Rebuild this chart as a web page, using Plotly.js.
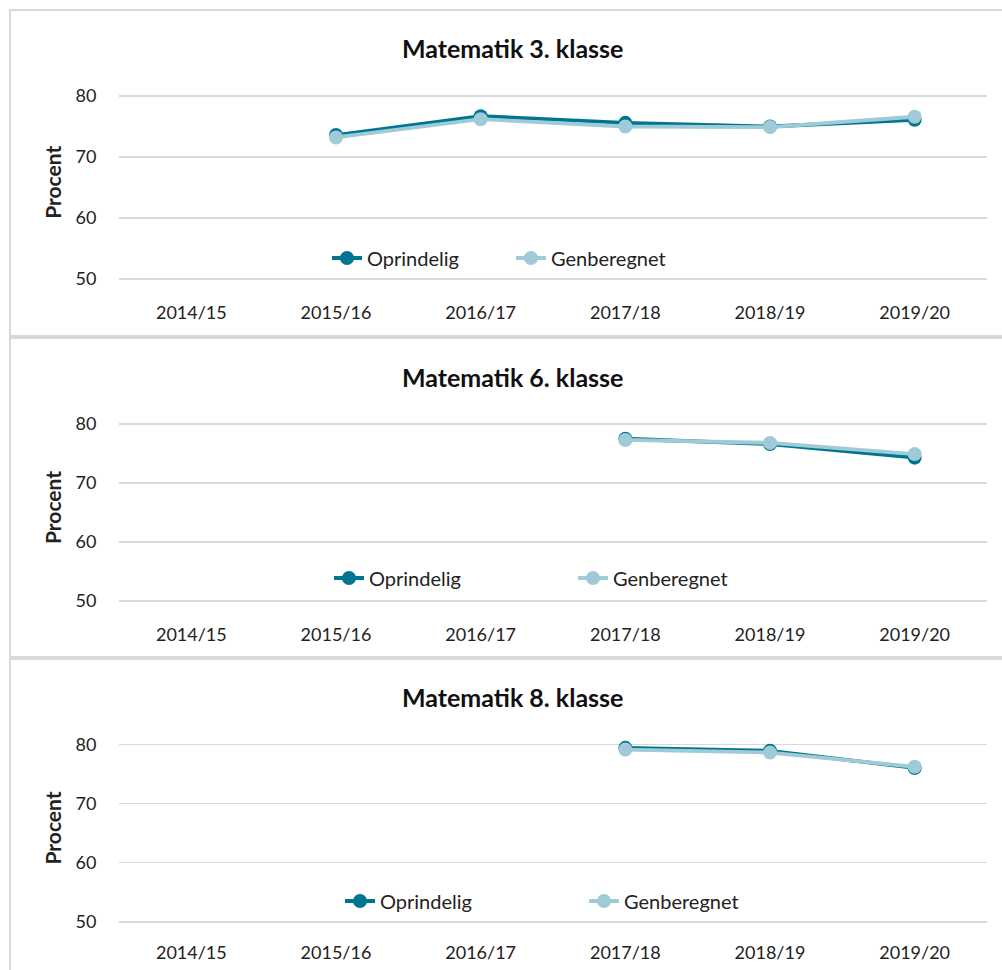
<!DOCTYPE html>
<html>
<head>
<meta charset="utf-8">
<script src="https://cdn.plot.ly/plotly-3.0.1.min.js"></script>
<style>html,body{margin:0;padding:0;background:#fff;}#chart{width:1002px;height:970px;}</style>
</head>
<body>
<div id="chart"></div>
<script>
// ---- data ----
const years = ["2014/15", "2015/16", "2016/17", "2017/18", "2018/19", "2019/20"];
const titles = ["Matematik 3. klasse", "Matematik 6. klasse", "Matematik 8. klasse"];
const seriesNames = ["Oprindelig", "Genberegnet"];
const yTicks = [50, 60, 70, 80];
const yTitle = "Procent";

const m3Oprindelig  = [null, 73.6, 76.7, 75.6, 75.0, 76.1];
const m3Genberegnet = [null, 73.2, 76.2, 75.0, 74.9, 76.6];
const m6Oprindelig  = [null, null, null, 77.5, 76.6, 74.3];
const m6Genberegnet = [null, null, null, 77.3, 76.8, 74.9];
const m8Oprindelig  = [null, null, null, 79.4, 78.9, 76.0];
const m8Genberegnet = [null, null, null, 79.1, 78.6, 76.2];

// ---- styling / layout ----
const W = 1002, H = 970;
const L = 119, R = 987;
const px = x => (x - L) / (R - L);
const py = y => 1 - y / H;

const darkC = "#00758f";
const lightC = "#9ecbd7";
const gridC = "#d9d9d9";
const FONT = "Lato, 'Open Sans', sans-serif";
const txtC = "#222222";

const panels = [
  {op: m3Oprindelig, gb: m3Genberegnet, y50: 279, y80: 96,  title: 48,  leg: 258, legX: 327, entry: 139, xtl: 16},
  {op: m6Oprindelig, gb: m6Genberegnet, y50: 601, y80: 424, title: 377, leg: 578, legX: 329, entry: 199, xtl: 16},
  {op: m8Oprindelig, gb: m8Genberegnet, y50: 921.7, y80: 744.3, title: 697, leg: 901, legX: 340, entry: 199, xtl: 13}
];
const yMin = 49.7, yMax = 82;

const data = [];
const layout = {
  width: W, height: H,
  margin: {l: L, r: W - R, t: 0, b: 0, pad: 0},
  paper_bgcolor: "#fff", plot_bgcolor: "rgba(0,0,0,0)",
  font: {family: FONT, color: txtC, size: 18},
  showlegend: true,
  annotations: [], shapes: []
};

const borders = [[10, 336], [338, 657], [659, 990]];

panels.forEach((p, i) => {
  const n = i === 0 ? "" : String(i + 1);
  const xa = "x" + n, ya = "y" + n;
  const legName = i === 0 ? "legend" : "legend" + (i + 1);
  const unit = (p.y50 - p.y80) / 30;
  const topPx = p.y50 - (yMax - 50) * unit;
  const botPx = p.y50 + (50 - yMin) * unit;

  data.push({
    type: "scatter", mode: "lines+markers", name: seriesNames[0],
    x: years, y: p.op, xaxis: xa, yaxis: ya, legend: legName,
    line: {color: darkC, width: 3.8}, marker: {color: darkC, size: 14},
    cliponaxis: false, hoverinfo: "x+y+name"
  });
  data.push({
    type: "scatter", mode: "lines+markers", name: seriesNames[1],
    x: years, y: p.gb, xaxis: xa, yaxis: ya, legend: legName,
    line: {color: lightC, width: 3.8}, marker: {color: lightC, size: 14},
    cliponaxis: false, hoverinfo: "x+y+name"
  });

  layout["xaxis" + n] = {
    domain: [0, 1], anchor: ya, type: "category",
    categoryorder: "array", categoryarray: years,
    range: [-0.5, years.length - 0.5],
    showgrid: false, zeroline: false, showline: false,
    ticks: "outside", ticklen: p.xtl, tickcolor: "rgba(0,0,0,0)",
    tickfont: {family: FONT, size: 18, color: txtC},
    fixedrange: true
  };
  layout["yaxis" + n] = {
    domain: [py(botPx), py(topPx)], anchor: xa,
    range: [yMin, yMax], tickvals: yTicks,
    showgrid: true, gridcolor: gridC, gridwidth: 1.6,
    zeroline: false, showline: false,
    ticks: "outside", ticklen: 18, tickcolor: "rgba(0,0,0,0)",
    tickfont: {family: FONT, size: 18, color: txtC},
    title: {text: yTitle, font: {family: FONT, size: 21, color: txtC, weight: "bold"}, standoff: 8},
    fixedrange: true
  };
  layout[legName] = {
    orientation: "h", x: px(p.legX), xanchor: "left",
    y: py(p.leg), yanchor: "middle", xref: "paper", yref: "paper",
    entrywidth: p.entry, entrywidthmode: "pixels",
    bgcolor: "rgba(0,0,0,0)", borderwidth: 0,
    font: {family: FONT, size: 20, color: txtC},
    traceorder: "normal"
  };
  layout.annotations.push({
    text: "<b>" + titles[i] + "</b>", xref: "paper", yref: "paper",
    x: px(512), y: py(p.title), xanchor: "center", yanchor: "middle",
    showarrow: false, font: {family: FONT, size: 25, color: "#111"}
  });
  const b = borders[i];
  layout.shapes.push({
    type: "rect", xref: "paper", yref: "paper",
    x0: px(10), x1: px(1014), y0: py(b[1]), y1: py(b[0]),
    line: {color: gridC, width: 2}, fillcolor: "rgba(0,0,0,0)", layer: "below"
  });
});

Plotly.newPlot("chart", data, layout, {displayModeBar: false, staticPlot: true});
</script>
</body>
</html>
